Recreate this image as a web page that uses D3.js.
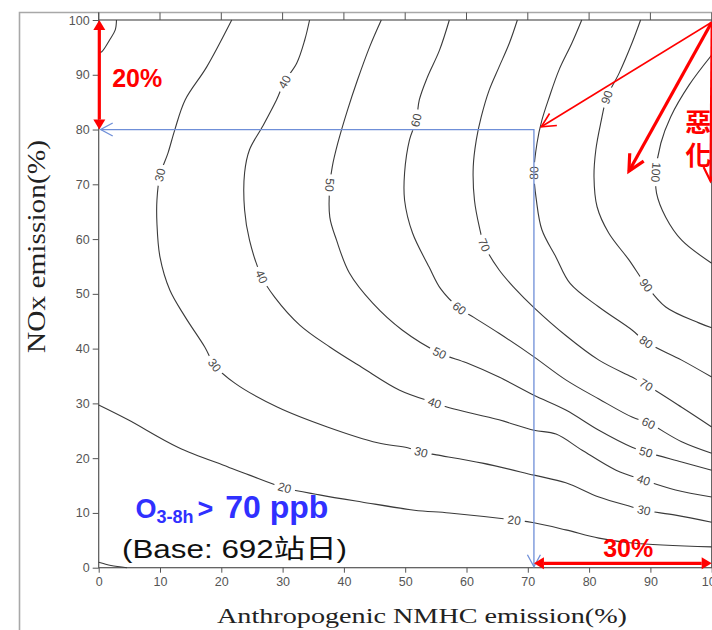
<!DOCTYPE html>
<html>
<head>
<meta charset="utf-8">
<script src="https://cdn.jsdelivr.net/npm/d3@7"></script>
<style>
  body { margin: 0; background: #fff; }
  svg { display: block; }
  text { font-family: "Liberation Sans", Arial, "Noto Sans CJK TC", sans-serif; }
</style>
</head>
<body>
<div class="chart"></div>
<script>
// axis ticks (%)
const xTicks = [0, 10, 20, 30, 40, 50, 60, 70, 80, 90, 100];
const yTicks = [0, 10, 20, 30, 40, 50, 60, 70, 80, 90, 100];

// isopleth lines, [NMHC %, NOx %]
const line10 = [[0, 1.0], [2.0, 0.4], [4.6, 0]];
const line20top = [[2.9, 100], [2.7, 98.2], [1.8, 96.4], [0.5, 94.2], [0, 94.0]];
const line20 = [[0, 29.7], [4.8, 27.0], [12.9, 22.0], [21.1, 18.4], [24.6, 16.9], [30.3, 14.6], [36.0, 13.3], [42.9, 12.0], [51.5, 10.5], [57.2, 10.0], [67.8, 8.7], [71.0, 8.2], [76.2, 6.9], [81.6, 5.4], [87.0, 4.5], [100, 3.8]];
const line30 = [[21.7, 100], [17.6, 91.4], [14.1, 85.4], [12.4, 79.9], [11.3, 75.7], [10.0, 71.7], [9.5, 67.1], [9.5, 62.9], [10.0, 56.7], [11.6, 50.7], [14.1, 45.8], [17.3, 40.3], [18.9, 37.0], [22.2, 33.7], [29.2, 29.3], [37.3, 25.7], [45.5, 22.8], [50.4, 21.9], [52.6, 21.1], [55.1, 20.6], [62.6, 19.1], [71.0, 16.9], [76.2, 15.5], [81.6, 12.9], [87.0, 11.1], [88.9, 10.5], [94.1, 9.6], [100, 8.3]];
const line40 = [[34.4, 100], [33.6, 96.3], [32.3, 92.1], [30.3, 88.7], [29.0, 85.4], [26.7, 80.5], [24.6, 76.3], [23.8, 72.1], [23.8, 65.3], [24.6, 59.8], [26.6, 53.1], [28.7, 49.4], [32.8, 44.3], [37.7, 40.3], [42.9, 36.6], [49.1, 32.4], [54.8, 30.1], [57.2, 29.2], [65.3, 27.0], [71.0, 25.1], [74.6, 24.4], [78.8, 21.5], [84.4, 17.8], [88.9, 16.0], [94.1, 14.2], [100, 12.9]];
const line50 = [[46.1, 100], [44.2, 95.1], [42.2, 89.0], [40.6, 83.6], [39.0, 77.5], [38.1, 73.2], [37.7, 69.9], [37.7, 64.0], [38.8, 59.8], [40.9, 53.8], [44.7, 48.3], [49.5, 43.4], [55.6, 39.2], [60.0, 37.4], [65.3, 34.8], [71.0, 31.5], [76.2, 28.8], [81.6, 25.1], [87.0, 22.0], [89.3, 21.1], [95.1, 19.3], [100, 17.8]];
const line60 = [[57.2, 100], [55.6, 94.5], [53.6, 89.5], [52.3, 85.4], [51.8, 81.7], [50.7, 78.1], [49.9, 72.1], [49.9, 67.1], [51.2, 61.1], [53.9, 54.9], [55.8, 50.9], [58.8, 47.4], [61.2, 45.7], [65.3, 42.8], [71.0, 38.5], [76.2, 34.3], [81.6, 30.8], [87.0, 27.5], [89.7, 26.4], [95.1, 23.0], [100, 20.9]];
const line70 = [[68.3, 100], [67.0, 95.8], [65.3, 91.4], [63.7, 87.2], [62.4, 82.3], [61.6, 78.1], [61.1, 73.2], [61.3, 67.1], [62.1, 62.2], [62.9, 58.9], [65.3, 54.4], [67.8, 51.1], [71.0, 47.5], [76.2, 42.4], [81.6, 37.9], [87.0, 34.8], [89.3, 33.4], [95.1, 29.3], [100, 25.7]];
const line80 = [[78.8, 100], [77.2, 95.8], [75.1, 90.9], [73.5, 85.9], [72.3, 81.7], [71.5, 77.5], [71.0, 72.1], [71.4, 67.1], [72.3, 61.7], [74.6, 56.7], [76.9, 51.9], [81.6, 47.6], [87.0, 43.4], [89.3, 41.2], [95.1, 37.9], [100, 34.8]];
const line90 = [[88.4, 100], [87.0, 95.8], [84.9, 90.3], [82.9, 85.9], [81.9, 81.2], [81.1, 76.3], [80.8, 71.3], [81.3, 65.9], [83.2, 61.1], [86.5, 56.2], [89.3, 51.6], [92.5, 47.6], [97.9, 44.7], [100, 43.8]];
const line100 = [[100, 93.6], [96.3, 88.1], [93.3, 82.3], [91.7, 77.5], [90.9, 72.2], [91.0, 68.4], [92.5, 64.0], [95.1, 59.8], [100, 55.6]];

// where each level is labelled on its line; a third value = text reads downward
const labels20 = [[30.3, 14.6], [67.8, 8.7]];
const labels30 = [[10.0, 71.7], [18.9, 37.0], [52.6, 21.1], [88.9, 10.5]];
const labels40 = [[30.3, 88.7], [26.6, 53.1], [54.8, 30.1], [88.9, 16.0]];
const labels50 = [[37.7, 69.9, 1], [55.6, 39.2], [89.3, 21.1]];
const labels60 = [[51.8, 81.7], [58.8, 47.4], [89.7, 26.4]];
const labels70 = [[62.9, 58.9], [89.3, 33.4]];
const labels80 = [[71.0, 72.1], [89.3, 41.2]];
const labels90 = [[82.9, 85.9], [89.3, 51.6]];
const labels100 = [[90.9, 72.2, 1]];

const contours = [
  { level: 10, pts: line10, labels: [] },
  { level: 20, pts: line20top, labels: [] },
  { level: 20, pts: line20, labels: labels20 },
  { level: 30, pts: line30, labels: labels30 },
  { level: 40, pts: line40, labels: labels40 },
  { level: 50, pts: line50, labels: labels50 },
  { level: 60, pts: line60, labels: labels60 },
  { level: 70, pts: line70, labels: labels70 },
  { level: 80, pts: line80, labels: labels80 },
  { level: 90, pts: line90, labels: labels90 },
  { level: 100, pts: line100, labels: labels100 }
];

// annotations, in the same % units
const guideCorner = [71, 80];
const cutNOx = [[0.1, 100], [0.1, 80]];
const cutNMHC = [[71, 0.8], [100, 0.8]];
const worsenFrom = [100, 99.6];
const worsenTo = [[72.2, 80.5], [86.5, 72.4], [99.8, 70.6]];

const W = 712, H = 630;
const x = d3.scaleLinear().domain([0, 100]).range([98.7, 711.7]);
const y = d3.scaleLinear().domain([0, 100]).range([567.7, 20]);

const svg = d3.select('.chart').append('svg').attr('width', W).attr('height', H);
const defs = svg.append('defs');

// outer frame of the slide picture
svg.append('path')
   .attr('d', `M19.5,${H} V12.5 H${W}`)
   .attr('fill', 'none').attr('stroke', '#a8a8a8').attr('stroke-width', 1.6);

// top tick strip
svg.append('g').selectAll('line')
   .data(xTicks).join('line')
   .attr('x1', d => x(d)).attr('x2', d => x(d))
   .attr('y1', 12.5).attr('y2', y(100))
   .attr('stroke', '#555').attr('stroke-width', 1);

// axes
const xAxis = svg.append('g')
  .attr('transform', `translate(0,${y(0)})`)
  .call(d3.axisBottom(x).tickValues(xTicks).tickSize(5).tickPadding(4).tickSizeOuter(0));
const yAxis = svg.append('g')
  .attr('transform', `translate(${x(0)},0)`)
  .call(d3.axisLeft(y).tickValues(yTicks).tickSize(6).tickPadding(3).tickSizeOuter(0));
[xAxis, yAxis].forEach(g => {
  g.select('.domain').remove();
  g.selectAll('line').attr('stroke', '#555');
  g.selectAll('text').attr('fill', '#555').style('font-size', '12.5px')
   .style('font-family', '"Liberation Sans", Arial, sans-serif');
});

// plot box
svg.append('rect')
   .attr('x', x(0)).attr('y', y(100))
   .attr('width', x(100) - x(0)).attr('height', y(0) - y(100))
   .attr('fill', 'none').attr('stroke', '#555').attr('stroke-width', 1.2);
svg.append('line')
   .attr('x1', x(0)).attr('x2', x(0)).attr('y1', 12.5).attr('y2', y(100))
   .attr('stroke', '#555').attr('stroke-width', 1.2);

// contour lines
const line = d3.line().x(d => x(d[0])).y(d => y(d[1])).curve(d3.curveCatmullRom.alpha(0.5));
const mask = defs.append('mask').attr('id', 'gaps')
  .attr('maskUnits', 'userSpaceOnUse')
  .attr('x', 0).attr('y', 0).attr('width', W).attr('height', H);
mask.append('rect').attr('width', W).attr('height', H).attr('fill', '#fff');

const lineG = svg.append('g').attr('mask', 'url(#gaps)');
const labelG = svg.append('g');

contours.forEach(c => {
  const path = lineG.append('path')
    .attr('d', line(c.pts))
    .attr('fill', 'none').attr('stroke', '#3a3a3a').attr('stroke-width', 1.1);
  const node = path.node();
  const L = node.getTotalLength();
  c.labels.forEach(lb => {
    const tx = x(lb[0]), ty = y(lb[1]);
    let best = 0, bd = Infinity;
    for (let s = 0; s <= L; s += 0.5) {
      const p = node.getPointAtLength(s);
      const dd = (p.x - tx) ** 2 + (p.y - ty) ** 2;
      if (dd < bd) { bd = dd; best = s; }
    }
    const p = node.getPointAtLength(best);
    const p1 = node.getPointAtLength(Math.max(0, best - 4));
    const p2 = node.getPointAtLength(Math.min(L, best + 4));
    let a = Math.atan2(p2.y - p1.y, p2.x - p1.x) * 180 / Math.PI;
    if (a > 90) a -= 180;
    if (a <= -90) a += 180;
    if (lb[2] && a < 0) a += 180;
    const t = labelG.append('text')
      .attr('transform', `translate(${p.x},${p.y}) rotate(${a})`)
      .attr('text-anchor', 'middle').attr('dy', '0.35em')
      .attr('fill', '#4a4a4a').style('font-size', '12px')
      .text(c.level);
    const w = t.node().getComputedTextLength() + 8;
    mask.append('rect')
      .attr('transform', `translate(${p.x},${p.y}) rotate(${a})`)
      .attr('x', -w / 2).attr('y', -5).attr('width', w).attr('height', 10)
      .attr('fill', '#000');
  });
});

// arrow head helper: returns the three points of a head at tip coming from "from"
function head(tip, from, len, half) {
  const dx = tip[0] - from[0], dy = tip[1] - from[1];
  const d = Math.hypot(dx, dy), ux = dx / d, uy = dy / d;
  const bx = tip[0] - ux * len, by = tip[1] - uy * len;
  return [[bx - uy * half, by + ux * half], tip, [bx + uy * half, by - ux * half]];
}
const px = d => [x(d[0]), y(d[1])];

// blue guide lines
const blue = '#6f8fd8';
const gc = px(guideCorner), gl = px([0, guideCorner[1]]), gb = px([guideCorner[0], 0]);
svg.append('path')
   .attr('d', `M${gl[0] + 2},${gl[1]} H${gc[0]} V${gb[1] - 1}`)
   .attr('fill', 'none').attr('stroke', blue).attr('stroke-width', 1.3);
[[[gl[0] + 2, gl[1]], gc], [[gb[0], gb[1] - 1], gc]].forEach(([tip, from]) => {
  svg.append('path')
     .attr('d', d3.line()(head(tip, from, 12, 6.5)))
     .attr('fill', 'none').attr('stroke', blue).attr('stroke-width', 1.3);
});

// red double arrows marking the cuts
const red = '#ff0000';
[cutNOx, cutNMHC].forEach(seg => {
  const a = px(seg[0]), b = px(seg[1]);
  const ha = head(a, b, 10, 6), hb = head(b, a, 10, 6);
  const ua = [(ha[0][0] + ha[2][0]) / 2, (ha[0][1] + ha[2][1]) / 2];
  const ub = [(hb[0][0] + hb[2][0]) / 2, (hb[0][1] + hb[2][1]) / 2];
  svg.append('line')
     .attr('x1', ua[0]).attr('y1', ua[1]).attr('x2', ub[0]).attr('y2', ub[1])
     .attr('stroke', red).attr('stroke-width', 3.2);
  [ha, hb].forEach(h => svg.append('path').attr('d', d3.line()(h) + 'Z').attr('fill', red));
});

svg.append('text')
   .attr('x', x(2.2)).attr('y', y(87.8))
   .attr('fill', red).style('font-size', '25px').style('font-weight', 'bold')
   .text('20%');
svg.append('text')
   .attr('x', x(82.3)).attr('y', y(1.95))
   .attr('fill', red).style('font-size', '25px').style('font-weight', 'bold')
   .text('30%');

// red "worsening" arrows from the top right corner
const wf = px(worsenFrom);
const widths = [1.6, 3.2, 2.2];
worsenTo.forEach((d, i) => {
  const t = px(d);
  svg.append('line')
     .attr('x1', wf[0]).attr('y1', wf[1]).attr('x2', t[0]).attr('y2', t[1])
     .attr('stroke', red).attr('stroke-width', widths[i]);
  svg.append('path')
     .attr('d', d3.line()(head(t, wf, i === 1 ? 16 : 14, i === 1 ? 8 : 7)))
     .attr('fill', 'none').attr('stroke', red).attr('stroke-width', widths[i])
     .attr('stroke-linejoin', 'miter');
});
['惡', '化'].forEach((ch, i) => {
  svg.append('text')
     .attr('x', x(97.8)).attr('y', y([81.7, 75.6][i]))
     .attr('text-anchor', 'middle').attr('dominant-baseline', 'central')
     .attr('fill', red).style('font-size', '26px').style('font-weight', 'bold')
     .style('font-family', '"Noto Sans CJK TC", sans-serif')
     .text(ch);
});

// O3-8h > 70 ppb
const o3 = svg.append('text')
   .attr('x', x(6.0)).attr('y', y(9.1))
   .attr('fill', '#3030ff').style('font-weight', 'bold');
o3.append('tspan').style('font-size', '27px').text('O');
o3.append('tspan').style('font-size', '18px').attr('dy', 5).text('3-8h');
o3.append('tspan').style('font-size', '27px').attr('dy', -5).attr('dx', 4).text('>');
o3.append('tspan').style('font-size', '32px').attr('dx', 3).text(' 70 ppb');

svg.append('text')
   .attr('x', x(3.8)).attr('y', y(1.75))
   .attr('fill', '#111').style('font-size', '26px')
   .attr('textLength', 225).attr('lengthAdjust', 'spacingAndGlyphs')
   .text('(Base: 692站日)');

// axis titles
svg.append('text')
   .attr('x', 217).attr('y', 623)
   .attr('fill', '#222').style('font-size', '22px')
   .style('font-family', '"Liberation Serif", "Times New Roman", serif')
   .attr('textLength', 410).attr('lengthAdjust', 'spacingAndGlyphs')
   .text('Anthropogenic NMHC emission(%)');
svg.append('text')
   .attr('transform', 'translate(45,353) rotate(-90)')
   .attr('fill', '#222').style('font-size', '25px')
   .style('font-family', '"Liberation Serif", "Times New Roman", serif')
   .attr('textLength', 213).attr('lengthAdjust', 'spacingAndGlyphs')
   .text('NOx emission(%)');
</script>
</body>
</html>
